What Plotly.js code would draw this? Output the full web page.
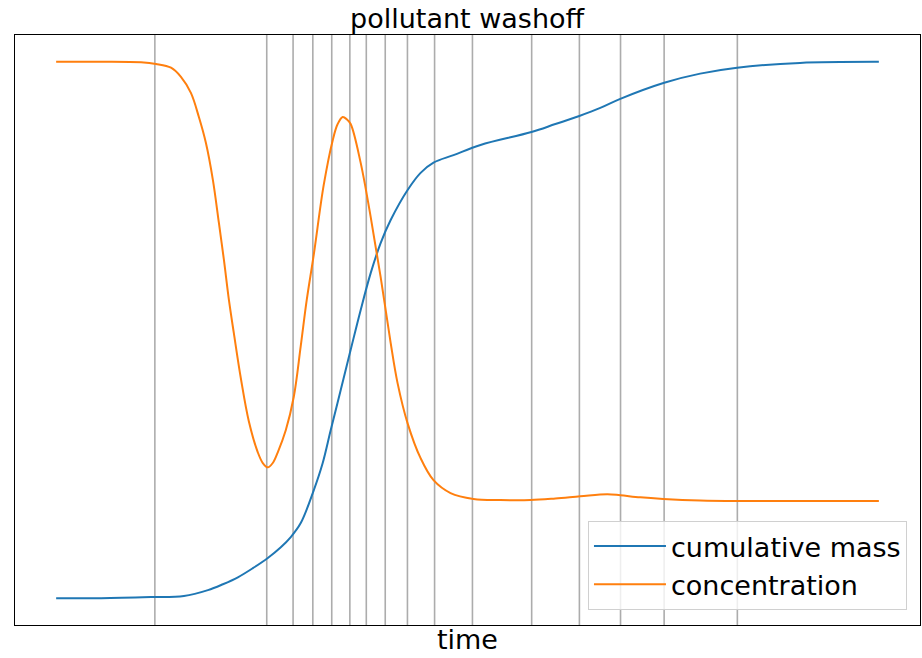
<!DOCTYPE html>
<html>
<head>
<meta charset="utf-8">
<script src="https://cdn.plot.ly/plotly-3.0.1.min.js"></script>
<style>html,body{margin:0;padding:0;background:#fff;}#chart{width:922px;height:658px;}</style>
</head>
<body>
<div id="chart"></div>
<script>
// time steps marked with vertical lines
var stepTimes = [12.0, 25.6, 28.8, 31.2, 33.5, 35.7, 37.7, 40.0, 42.7, 46.0, 50.6, 57.8, 63.6, 68.6, 73.9, 82.8];

// concentration series
var concTime = [0, 5.46, 10.32, 12.14, 13.96, 15.17, 16.38, 17.35, 18.20, 19.05, 19.78, 20.39, 21.00, 21.60, 22.45, 23.42, 24.51, 25.12, 25.73, 26.33, 26.94, 27.91, 28.88, 29.73, 30.46, 31.31, 32.52, 33.62, 34.22, 34.83, 35.32, 35.80, 37.01, 38.23, 39.44, 40.66, 41.50, 42.72, 44.30, 45.87, 47.94, 50.73, 54.0, 57.65, 60.68, 63.71, 66.99, 68.57, 71.0, 73.79, 78.28, 82.77, 90.41, 100];
var concValue = [1.0, 1.0, 0.999, 0.996, 0.989, 0.972, 0.942, 0.897, 0.849, 0.780, 0.700, 0.631, 0.556, 0.494, 0.410, 0.330, 0.272, 0.252, 0.244, 0.252, 0.272, 0.313, 0.375, 0.470, 0.556, 0.640, 0.770, 0.854, 0.884, 0.897, 0.893, 0.884, 0.812, 0.711, 0.599, 0.476, 0.401, 0.326, 0.261, 0.220, 0.196, 0.185, 0.183, 0.183, 0.186, 0.190, 0.194, 0.192, 0.188, 0.185, 0.182, 0.181, 0.181, 0.181];

// cumulative mass series
var massTime = [0, 5.46, 11.53, 15.53, 18.45, 20.27, 22.09, 23.91, 25.73, 27.31, 28.52, 29.73, 31.31, 32.40, 33.37, 34.59, 35.80, 37.01, 38.23, 39.44, 40.66, 42.72, 44.30, 45.87, 48.30, 51.58, 57.77, 60.68, 63.59, 66.14, 68.57, 73.91, 78.28, 82.77, 90.41, 100];
var massValue = [0, 0, 0.002, 0.004, 0.015, 0.026, 0.039, 0.056, 0.075, 0.095, 0.114, 0.140, 0.201, 0.252, 0.313, 0.388, 0.463, 0.537, 0.606, 0.662, 0.705, 0.761, 0.793, 0.812, 0.826, 0.845, 0.869, 0.884, 0.899, 0.914, 0.931, 0.961, 0.978, 0.989, 0.998, 1.0];

var seriesNames = ['cumulative mass', 'concentration'];

var traces = [
  {x: massTime, y: massValue, name: seriesNames[0], type: 'scatter', mode: 'lines',
   line: {color: '#1f77b4', width: 2, shape: 'spline', smoothing: 1}},
  {x: concTime, y: concValue, name: seriesNames[1], type: 'scatter', mode: 'lines',
   line: {color: '#ff7f0e', width: 2, shape: 'spline', smoothing: 1}}
];

var shapes = stepTimes.map(function (t) {
  return {type: 'line', xref: 'x', yref: 'paper', x0: t, x1: t, y0: 0, y1: 1,
          line: {color: 'rgba(128,128,128,0.65)', width: 1.6}, layer: 'below'};
});

var layout = {
  width: 922, height: 658,
  margin: {l: 15, r: 2, t: 35, b: 33, pad: 0},
  paper_bgcolor: '#ffffff', plot_bgcolor: '#ffffff',
  font: {family: 'DejaVu Sans, sans-serif', color: '#000'},
  title: {text: 'pollutant washoff', font: {size: 27, color: '#000'}, x: 0.5066, xanchor: 'center', y: 0.972, yanchor: 'middle'},
  xaxis: {range: [-5, 105], showticklabels: false, ticks: '', showgrid: false, zeroline: false,
          showline: true, mirror: true, linecolor: '#000', linewidth: 1.2,
          title: {text: 'time', font: {size: 27, color: '#000'}, standoff: 4}},
  yaxis: {range: [-0.05, 1.05], showticklabels: false, ticks: '', showgrid: false, zeroline: false,
          showline: true, mirror: true, linecolor: '#000', linewidth: 1.2},
  shapes: shapes,
  showlegend: true,
  legend: {x: 0.9856, xanchor: 'right', y: 0.0254, yanchor: 'bottom',
           bgcolor: 'rgba(255,255,255,0.8)', bordercolor: '#d0d0d0', borderwidth: 1,
           font: {size: 27, color: '#000'}, itemwidth: 72, tracegroupgap: 0}
};

Plotly.newPlot('chart', traces, layout, {displayModeBar: false, staticPlot: true});
</script>
</body>
</html>
